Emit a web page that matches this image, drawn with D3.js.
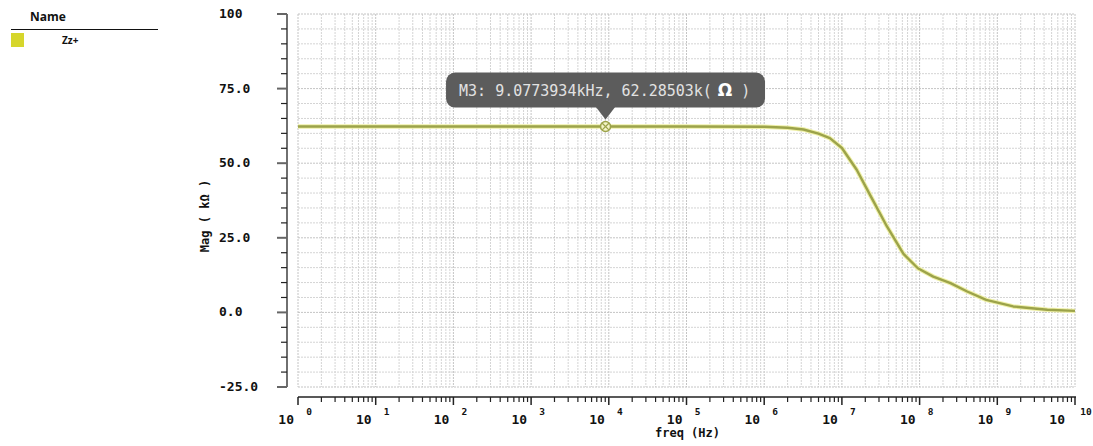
<!DOCTYPE html>
<html>
<head>
<meta charset="utf-8">
<script src="https://cdn.jsdelivr.net/npm/d3@7"></script>
<style>
  body { margin: 0; background: #fff; }
  svg { display: block; }
  .grid line { stroke: #d4d4d4; stroke-dasharray: 2,1; stroke-width: 1; }
  .grid line.major { stroke: #c4c4c4; }
  .tick-label { font-family: "DejaVu Sans Mono", monospace; font-weight: bold; fill: #111; }
</style>
</head>
<body>
<svg id="chart" width="1093" height="446"></svg>
<script>
// ============== Data ==============
const freqHz = [1, 10, 100, 1e3, 1e4, 1e5, 1e6, 2e6, 3.2e6, 5e6, 7e6, 1e7,
  1.55e7, 2.3e7, 3.8e7, 6.2e7, 9.5e7, 1.5e8, 2.5e8, 4.1e8, 7.2e8, 1.6e9, 4.4e9, 1e10];
const magK = [62.285, 62.285, 62.285, 62.285, 62.285, 62.28, 62.2, 61.9, 61.3, 59.9, 58.4, 55.1,
  47.8, 39.4, 28.8, 19.6, 14.8, 12.0, 9.8, 7.0, 4.2, 2.0, 0.9, 0.5];

const yTicks = [100, 75, 50, 25, 0, -25];
const yTickLabels = ['100', '75.0', '50.0', '25.0', '0.0', '-25.0'];
const xDecades = [0, 1, 2, 3, 4, 5, 6, 7, 8, 9, 10];

const markerFreq = 9077.3934;
const markerMag = 62.28503;
const markerText = 'M3: 9.0773934kHz, 62.28503k(';

const legendNames = ['Zz+'];
const legendColors = ['#d6d62c'];

// ============== Layout ==============
const svg = d3.select('#chart');
const plotL = 298, plotR = 1075, plotT = 14, plotB = 387;
const xAxisY = 397, yAxisX = 287;

const x = d3.scaleLog().domain([1, 1e10]).range([plotL, plotR]);
const y = d3.scaleLinear().domain([-25, 100]).range([plotB, plotT]);

// ============== Grid ==============
const grid = svg.append('g').attr('class', 'grid');

const minorFreqs = [];
xDecades.slice(0, -1).forEach(d => {
  for (let m = 2; m <= 9; m++) minorFreqs.push(m * Math.pow(10, d));
});

grid.selectAll('.vminor')
  .data(minorFreqs)
  .enter().append('line')
    .attr('x1', d => x(d)).attr('x2', d => x(d))
    .attr('y1', plotT).attr('y2', plotB);

grid.selectAll('.vmajor')
  .data(xDecades)
  .enter().append('line')
    .attr('class', 'major')
    .attr('x1', d => x(Math.pow(10, d))).attr('x2', d => x(Math.pow(10, d)))
    .attr('y1', plotT).attr('y2', plotB);

grid.selectAll('.hline')
  .data(d3.range(-25, 101, 5))
  .enter().append('line')
    .attr('class', d => d % 25 === 0 ? 'major' : null)
    .attr('x1', plotL).attr('x2', plotR)
    .attr('y1', d => y(d)).attr('y2', d => y(d));

// ============== Y Axis ==============
const yAxis = svg.append('g');
yAxis.append('line')
  .attr('x1', yAxisX).attr('x2', yAxisX)
  .attr('y1', plotT).attr('y2', plotB)
  .attr('stroke', '#222').attr('stroke-width', 1.3);

yAxis.selectAll('.ytick')
  .data(d3.range(-25, 101, 5))
  .enter().append('line')
    .attr('x1', d => d % 25 === 0 ? yAxisX - 10 : yAxisX - 6)
    .attr('x2', yAxisX)
    .attr('y1', d => y(d)).attr('y2', d => y(d))
    .attr('stroke', d => d % 25 === 0 ? '#666' : '#222')
    .attr('stroke-width', d => d % 25 === 0 ? 2 : 1.2);

yAxis.selectAll('.ylabel')
  .data(yTicks)
  .enter().append('text')
    .attr('class', 'tick-label')
    .attr('x', 219)
    .attr('y', d => y(d) + 4)
    .attr('font-size', 13)
    .text((d, i) => yTickLabels[i]);

svg.append('text')
  .attr('class', 'tick-label')
  .attr('transform', 'translate(209,216) rotate(-90)')
  .attr('text-anchor', 'middle')
  .attr('font-size', 12)
  .text('Mag ( kΩ  )');

// ============== X Axis ==============
const xAxis = svg.append('g');
xAxis.append('line')
  .attr('x1', plotL).attr('x2', plotR + 1)
  .attr('y1', xAxisY).attr('y2', xAxisY)
  .attr('stroke', '#222').attr('stroke-width', 1.3);

xAxis.selectAll('.xminor')
  .data(minorFreqs)
  .enter().append('line')
    .attr('x1', d => x(d)).attr('x2', d => x(d))
    .attr('y1', xAxisY).attr('y2', xAxisY + 5)
    .attr('stroke', '#222').attr('stroke-width', 1.2);

xAxis.selectAll('.xmajor')
  .data(xDecades)
  .enter().append('line')
    .attr('x1', d => x(Math.pow(10, d))).attr('x2', d => x(Math.pow(10, d)))
    .attr('y1', xAxisY).attr('y2', xAxisY + 8)
    .attr('stroke', '#222').attr('stroke-width', 1.5);

const xl = xAxis.selectAll('.xlabel')
  .data(xDecades)
  .enter().append('g')
    .attr('transform', d => `translate(${x(Math.pow(10, d))},0)`);

xl.append('text')
  .attr('class', 'tick-label')
  .attr('x', d => d === 10 ? -10 : -4).attr('y', 424)
  .attr('text-anchor', 'end')
  .attr('font-size', 13)
  .text('10');

xl.append('text')
  .attr('class', 'tick-label')
  .attr('x', 11).attr('y', 415)
  .attr('text-anchor', 'middle')
  .attr('font-size', 9.5)
  .text(d => d);

svg.append('text')
  .attr('class', 'tick-label')
  .attr('x', x(1e5) + 1).attr('y', 437)
  .attr('text-anchor', 'middle')
  .attr('font-size', 12)
  .text('freq (Hz)');

// ============== Series ==============
const series = freqHz.map((f, i) => [f, magK[i]]);
const line = d3.line()
  .x(d => x(d[0]))
  .y(d => y(d[1]));

svg.append('path')
  .datum(series)
  .attr('d', line)
  .attr('fill', 'none')
  .attr('stroke', '#eff0a8')
  .attr('stroke-width', 4.5)
  .attr('stroke-linejoin', 'round');

svg.append('path')
  .datum(series)
  .attr('d', line)
  .attr('fill', 'none')
  .attr('stroke', '#9ca34a')
  .attr('stroke-width', 2.4)
  .attr('stroke-linejoin', 'round');

// ============== Marker ==============
const mx = x(markerFreq), my = y(markerMag);
const marker = svg.append('g').attr('transform', `translate(${mx},${my})`);
marker.append('circle')
  .attr('r', 5)
  .attr('fill', '#f4f4c8')
  .attr('stroke', '#9ca34a')
  .attr('stroke-width', 1.5);
marker.append('path')
  .attr('d', 'M-3.3,-3.3L3.3,3.3M-3.3,3.3L3.3,-3.3')
  .attr('stroke', '#9ca34a')
  .attr('stroke-width', 1.3);

// Tooltip
const tipW = 319, tipH = 35;
const tip = svg.append('g');
tip.append('path')
  .attr('d', `M${mx - 10},${my - 20} L${mx},${my - 7} L${mx + 10},${my - 20} Z`)
  .attr('fill', '#5c5c5c');
tip.append('rect')
  .attr('x', mx - tipW / 2)
  .attr('y', my - 54)
  .attr('width', tipW)
  .attr('height', tipH)
  .attr('rx', 9)
  .attr('fill', '#5c5c5c');

const tipText = tip.append('text')
  .attr('x', mx - tipW / 2 + 13)
  .attr('y', my - 31)
  .attr('font-family', '"DejaVu Sans Mono", monospace')
  .attr('font-size', 15)
  .attr('fill', '#e2e2e2');
tipText.append('tspan').text(markerText);
tipText.append('tspan').attr('font-weight', 'bold').attr('font-family', '"DejaVu Sans", sans-serif')
  .attr('font-size', 17).attr('fill', '#fff').text(' Ω');
tipText.append('tspan').text(' )');

// ============== Legend ==============
const legend = svg.append('g');
legend.append('text')
  .attr('x', 30).attr('y', 21)
  .attr('font-family', '"Open Sans", "DejaVu Sans", sans-serif')
  .attr('font-weight', 'bold')
  .attr('font-size', 12)
  .attr('fill', '#111')
  .text('Name');
legend.append('line')
  .attr('x1', 11).attr('x2', 158)
  .attr('y1', 29.5).attr('y2', 29.5)
  .attr('stroke', '#111').attr('stroke-width', 1);

const items = legend.selectAll('.item')
  .data(legendNames)
  .enter().append('g')
    .attr('transform', (d, i) => `translate(0,${i * 18})`);
items.append('rect')
  .attr('x', 11).attr('y', 33)
  .attr('width', 13).attr('height', 14)
  .attr('fill', (d, i) => legendColors[i]);
items.append('text')
  .attr('x', 62).attr('y', 44)
  .attr('font-family', '"Open Sans", "DejaVu Sans", sans-serif')
  .attr('font-weight', 'bold')
  .attr('font-size', 10)
  .attr('fill', '#111')
  .text(d => d);
</script>
</body>
</html>
